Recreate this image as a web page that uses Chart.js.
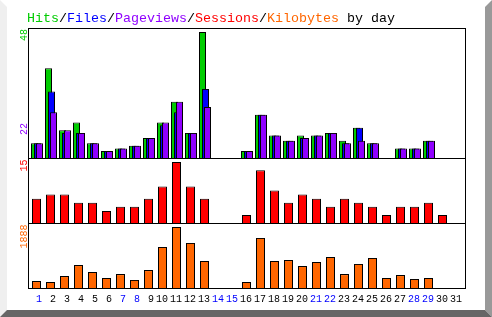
<!DOCTYPE html>
<html>
<head>
<meta charset="utf-8">
<title>Hits/Files/Pageviews/Sessions/Kilobytes by day</title>
<script src="https://cdn.jsdelivr.net/npm/chart.js@4.4.1/dist/chart.umd.min.js"></script>
<style>
  html, body { margin: 0; padding: 0; background: #fff; }
  canvas { display: block; }
</style>
</head>
<body>
<canvas id="grafico" width="492" height="317"></canvas>
<script>
// DATOS
const dias = [1, 2, 3, 4, 5, 6, 7, 8, 9, 10, 11, 12, 13, 14, 15, 16, 17, 18, 19, 20, 21, 22, 23, 24, 25, 26, 27, 28, 29, 30, 31];
const finesDeSemana = [1, 7, 8, 14, 15, 21, 22, 28, 29];
const hits     = [5, 34, 10, 13, 5, 2, 3, 4, 7, 13, 21, 9, 48, 0, 0, 2, 16, 8, 6, 8, 8, 9, 6, 11, 5, 0, 3, 3, 6, 0, 0];
const archivos = [5, 25, 9, 9, 5, 2, 3, 4, 7, 12, 17, 9, 26, 0, 0, 2, 16, 8, 6, 7, 8, 9, 5, 11, 5, 0, 3, 3, 6, 0, 0];
const paginas  = [5, 17, 10, 9, 5, 2, 3, 4, 7, 13, 21, 9, 19, 0, 0, 2, 16, 8, 6, 7, 8, 9, 5, 6, 5, 0, 3, 3, 6, 0, 0];
const sesiones = [6, 7, 7, 5, 5, 3, 4, 4, 6, 9, 15, 9, 6, 0, 0, 2, 13, 8, 5, 7, 6, 4, 6, 5, 4, 2, 4, 4, 5, 2, 0];
const kilobytes = [215, 185, 370, 710, 495, 310, 430, 250, 555, 1270, 1888, 1395, 835, 0, 0, 185, 1550, 835, 865, 680, 805, 960, 430, 745, 930, 310, 400, 280, 310, 0, 0];
const etiquetasMax = ['48', '22', '15', '1888'];
const titulo = ['Hits', '/', 'Files', '/', 'Pageviews', '/', 'Sessions', '/', 'Kilobytes', ' by day'];

const VERDE = '#00cc00', AZUL = '#0000ff', VIOLETA = '#9000ff', ROJO = '#ff0000', NARANJA = '#ff6600';
const coloresTitulo = [VERDE, '#000', AZUL, '#000', VIOLETA, '#000', ROJO, '#000', NARANJA, '#000'];
const FUENTE = '"Liberation Mono", "DejaVu Sans Mono", monospace';

// GEOMETRIA: area 28..466 x 28..289, 14 px por dia
const AREA = { izq: 28, arr: 28, der: 466, abj: 289 };
const PASO = 14;
const anchoDias = (AREA.der - AREA.izq) / PASO;
const altoArea = AREA.abj - AREA.arr;
const minX = (centroDia1) => 1 - (centroDia1 - AREA.izq) / PASO;

// cada panel: pixel del cero, px por unidad y pixel donde apoya la barra
function rangoPanel(ceroPx, pxUnidad, basePx) {
    const max = (ceroPx - AREA.arr) / pxUnidad;
    return { min: max - altoArea / pxUnidad, max: max, base: -(basePx - ceroPx) / pxUnidad };
}
const panelHits = rangoPanel(156.17, 2.587, 159);
const panelSes  = rangoPanel(223.15, 4.077, 224);
const panelKb   = rangoPanel(288, 61 / 1888, 289);

const sinCeros = arr => arr.map(v => v || null);

const ejeX = (centro) => ({
    type: 'linear', display: false, bounds: 'data', offset: false, grid: { offset: false },
    min: minX(centro), max: minX(centro) + anchoDias
});
const ejeY = (p) => ({ type: 'linear', display: false, bounds: 'data', min: p.min, max: p.max });

function barra(datos, color, ejeXid, ejeYid, base, ancho, orden) {
    return {
        data: sinCeros(datos), backgroundColor: color, borderColor: '#000', borderWidth: 1,
        borderSkipped: false, inflateAmount: 0, grouped: false,
        categoryPercentage: 1, barPercentage: ancho / PASO, base: base,
        xAxisID: ejeXid, yAxisID: ejeYid, order: orden
    };
}

// DECORADO: relieve, titulo, marco y etiquetas giradas
const decorado = {
    id: 'decorado',
    beforeDraw(chart) {
        const ctx = chart.ctx, W = chart.width, H = chart.height;
        const poli = (color, pts) => {
            ctx.fillStyle = color; ctx.beginPath();
            pts.forEach((p, i) => i ? ctx.lineTo(p[0], p[1]) : ctx.moveTo(p[0], p[1]));
            ctx.closePath(); ctx.fill();
        };
        ctx.save();
        ctx.fillStyle = '#fff'; ctx.fillRect(0, 0, W, H);
        poli('#efefef', [[0, 0], [7, 7], [7, H - 7], [0, H]]);
        poli('#999999', [[W - 7, 7], [W, 0], [W, H], [W - 7, H - 7]]);
        poli('#666666', [[0, H], [7, H - 7], [W - 7, H - 7], [W, H]]);

        ctx.font = '13.33px ' + FUENTE;
        ctx.textBaseline = 'alphabetic';
        let x = 27;
        titulo.forEach((t, i) => {
            ctx.fillStyle = coloresTitulo[i];
            ctx.fillText(t, x, 22);
            x += ctx.measureText(t).width;
        });
        ctx.restore();
    },
    afterDatasetsDraw(chart) {
        const ctx = chart.ctx, a = chart.chartArea, s = chart.scales;
        const div1 = Math.round(s.yH.getPixelForValue(panelHits.base)) - 0.5;
        const div2 = Math.round(s.yS.getPixelForValue(panelSes.base)) - 0.5;
        ctx.save();
        ctx.strokeStyle = '#000'; ctx.lineWidth = 1;
        ctx.strokeRect(a.left + 0.5, a.top + 0.5, a.right - a.left - 1, a.bottom - a.top - 1);
        ctx.beginPath();
        ctx.moveTo(a.left, div1); ctx.lineTo(a.right, div1);
        ctx.moveTo(a.left, div2); ctx.lineTo(a.right, div2);
        ctx.stroke();

        ctx.font = '10px ' + FUENTE;
        ctx.textAlign = 'right';
        ctx.textBaseline = 'alphabetic';
        const girado = (txt, color, y) => {
            ctx.save(); ctx.translate(27, y); ctx.rotate(-Math.PI / 2);
            ctx.fillStyle = color; ctx.fillText(txt, 0, 0); ctx.restore();
        };
        girado(etiquetasMax[0], VERDE, a.top + 1);
        girado(etiquetasMax[1], VIOLETA, 123);
        girado(etiquetasMax[2], ROJO, div1 + 1);
        girado(etiquetasMax[3], NARANJA, div2 + 1);
        ctx.restore();
    }
};

new Chart(document.getElementById('grafico'), {
    type: 'bar',
    data: {
        labels: dias,
        datasets: [
            barra(paginas, VIOLETA, 'xP', 'yH', panelHits.base, 7, 1),
            barra(archivos, AZUL, 'xA', 'yH', panelHits.base, 7, 2),
            barra(hits, VERDE, 'xV', 'yH', panelHits.base, 7, 3),
            barra(sesiones, ROJO, 'xS', 'yS', panelSes.base, 9, 4),
            barra(kilobytes, NARANJA, 'xS', 'yK', panelKb.base, 9, 5)
        ]
    },
    options: {
        responsive: false, animation: false, devicePixelRatio: 1,
        layout: { padding: { left: AREA.izq, top: AREA.arr, right: 492 - AREA.der, bottom: 0 } },
        plugins: { legend: { display: false }, tooltip: { enabled: false } },
        scales: {
            x: {
                type: 'linear', position: 'bottom', bounds: 'data', offset: false, min: 0, max: anchoDias,
                grid: { display: false, drawTicks: false, offset: false }, border: { display: false },
                afterFit: (eje) => { eje.height = 317 - AREA.abj; },
                ticks: {
                    stepSize: 1, autoSkip: false, includeBounds: false, maxRotation: 0, align: 'end', padding: 4,
                    font: { family: FUENTE, size: 10 },
                    color: (c) => finesDeSemana.includes(c.tick.value) ? AZUL : '#000',
                    callback: (v) => dias.includes(v) ? String(v) : ''
                }
            },
            xV: ejeX(34.5),
            xA: ejeX(37.5),
            xP: ejeX(39.5),
            xS: ejeX(36.5),
            yH: ejeY(panelHits),
            yS: ejeY(panelSes),
            yK: ejeY(panelKb)
        }
    },
    plugins: [decorado]
});
</script>
</body>
</html>
